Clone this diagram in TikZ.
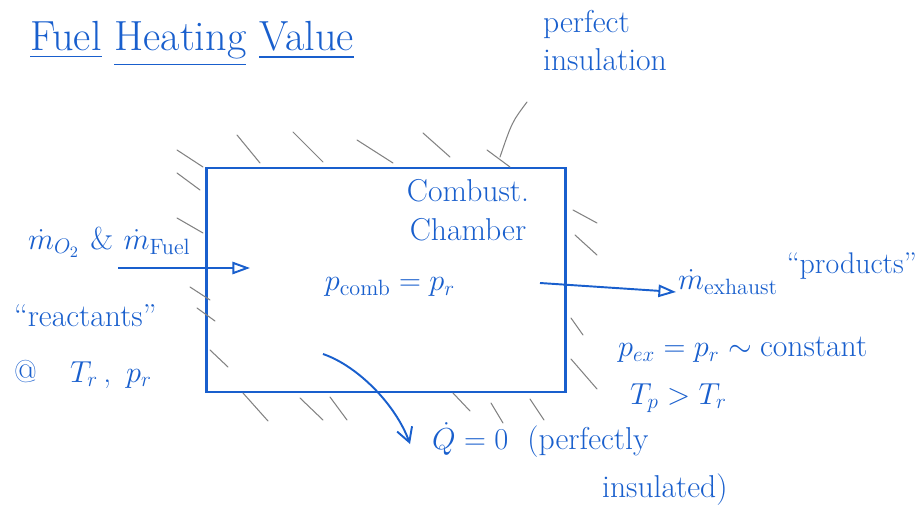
\documentclass[tikz,border=0pt]{standalone}
\usepackage{amsmath,amssymb}
\usepackage{xcolor}
\usepackage{tikz}
\usetikzlibrary{arrows.meta, positioning}
\definecolor{ink}{RGB}{25,95,205}
\definecolor{pencil}{RGB}{130,130,130}

\begin{document}
\begin{tikzpicture}[
  x=0.02cm, y=-0.02cm,
  txt/.style={text=ink, inner sep=1pt, font=\fontsize{18}{22}\selectfont, align=left},
  chamber/.style={rectangle, draw=ink, line width=1.2pt,
                  minimum width=7.18cm, minimum height=4.48cm},
  hatch/.style={draw=pencil, line width=0.6pt, line cap=round},
  flow/.style={draw=ink, line width=1.1pt, -{Triangle[open, length=10pt, width=7pt]}},
  heat/.style={draw=ink, line width=1.1pt, -{Straight Barb[length=8pt, width=9pt]}},
  node distance=0.3cm and 0.4cm
]
  \useasboundingbox (0,0) rectangle (924,521);

  % Title
  \node[txt, font=\fontsize{24}{28}\selectfont] (title) at (192,44)
    {\underline{Fuel} \underline{Heating} \underline{Value}};

  % Chamber
  \node[chamber] (box) at (386,280) {};
  \node[txt, align=center] (comb) at (468,210) {Combust.\\Chamber};
  \node[txt] (pcomb) at (390,287) {$p_{\text{comb}} = p_r$};

  % Insulation hatching
  \foreach \x/\y/\dx/\dy in {
      237/135/23/28, 293/132/30/30, 357/140/36/23, 423/133/27/24, 487/150/23/17,
      177/150/26/17, 177/173/23/17, 177/218/26/15, 190/287/20/13, 197/308/18/13,
      210/350/18/17, 243/393/25/28, 300/398/23/22, 330/397/17/23,
      453/393/17/18, 491/403/12/20, 530/399/14/21,
      573/210/24/13, 575/235/22/20, 571/318/12/17, 571/359/26/30}
    \draw[hatch] (\x,\y) -- ++(\dx,\dy);

  \node[txt, anchor=north west] (ins) at (541,8) {perfect\\insulation};
  \coordinate (ldA) at (527,102);
  \coordinate (ldB) at (500,157);
  \draw[hatch] (ldA) .. controls (512,122) .. (ldB);

  % Inlet -- reactants
  \node[txt, anchor=west] (min) at (26,242)
    {$\dot m_{O_2}$\,\,\&\,\,$\dot m_{\text{Fuel}}$};
  \coordinate (inS) at (118,268);
  \coordinate (inE) at (250,268);
  \draw[flow] (inS) -- (inE);
  \node[txt, anchor=west] (react) at (12,316) {``reactants''};
  \node[txt, anchor=west] (trpr) at (12,374) {@ \;\, $T_r$\,,\, $p_r$};

  % Outlet -- products
  \coordinate (outS) at (540,283);
  \coordinate (outE) at (676,292);
  \draw[flow] (outS) -- (outE);
  \node[txt, anchor=west] (mex) at (676,282) {$\dot m_{\text{exhaust}}$};
  \node[txt, anchor=east, font=\fontsize{17}{21}\selectfont] (prod) at (919,266) {``products''};
  \node[txt, anchor=west] (pex) at (616,350) {$p_{ex} = p_r \sim \text{constant}$};
  \node[txt, anchor=west] (tp) at (628,398) {$T_p > T_r$};

  % Heat loss
  \coordinate (qS) at (323,354);
  \coordinate (qE) at (410,444);
  \draw[heat] (qS) .. controls (358,366) and (396,405) .. (qE);
  \node[txt, anchor=west] (qdot) at (430,440) {$\dot Q = 0$ \ (perfectly};
  \node[txt, anchor=west] (insul) at (600,490) {insulated)};
\end{tikzpicture}
\end{document}
